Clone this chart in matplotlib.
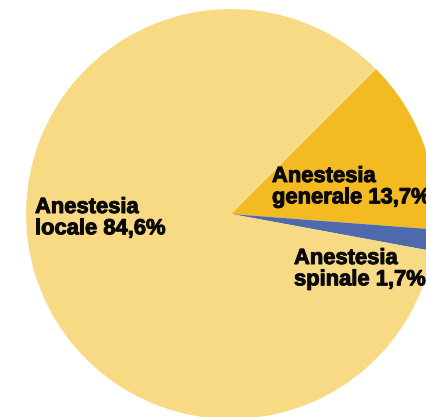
import matplotlib
matplotlib.use("Agg")
import matplotlib.pyplot as plt
import matplotlib.patheffects as pe

categories = ["Anestesia\ngenerale", "Anestesia\nspinale", "Anestesia\nlocale"]
values = [13.7, 1.7, 84.6]
labels = ["Anestesia\ngenerale 13,7%", "Anestesia\nspinale 1,7%", "Anestesia\nlocale 84,6%"]
colors = ["#F4BA21", "#4E6AAD", "#F8DA84"]

W, H = 427, 417
fig = plt.figure(figsize=(W / 100, H / 100), dpi=100)
ax = fig.add_axes([0, 0, 1, 1])

cx, cy, r = 231, H - 214, 205
wedges, _ = ax.pie(values, colors=colors, startangle=45, counterclock=False,
                   radius=r, center=(cx, cy), frame=True,
                   wedgeprops=dict(linewidth=0))
ax.set_xlim(0, W)
ax.set_ylim(0, H)
ax.set_aspect("equal")
ax.axis("off")

label_pos = [(272, H - 166), (294, H - 248), (35, H - 197)]
for lab, (x, y) in zip(labels, label_pos):
    ax.text(x, y, lab, ha="left", va="top", fontsize=15.8, fontweight="bold",
            family="Liberation Sans", color="#0a0a0a", linespacing=1.02,
            path_effects=[pe.withStroke(linewidth=0.7, foreground="#0a0a0a")])

fig.savefig("out.png", dpi=100)
